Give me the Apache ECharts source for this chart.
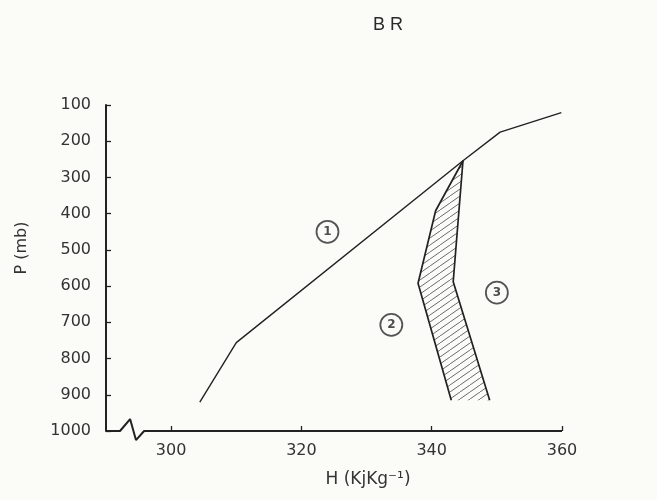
<!DOCTYPE html>
<html>
<head>
<meta charset="utf-8">
<script src="https://cdn.jsdelivr.net/npm/echarts@6/dist/echarts.min.js"></script>
<style>html,body{margin:0;padding:0;background:#fbfbf8;}#chart{width:657px;height:500px;}</style>
</head>
<body>
<div id="chart"></div>
<script>
// ---- data (H in kJ/kg, P in mb) ----
const titleText = 'B R';
const xTicks = [300, 320, 340, 360];
const yTicks = [100, 200, 300, 400, 500, 600, 700, 800, 900, 1000];
// curve 1
const curve1H = [304.4, 310.0, 344.8, 350.5, 359.9];
const curve1P = [920, 756, 254, 175, 121];
// curve 2 (left boundary of hatched band)
const curve2H = [344.8, 340.6, 337.9, 343.0];
const curve2P = [254, 392, 592, 915];
// curve 3 (right boundary of hatched band)
const curve3H = [344.8, 343.3, 348.9];
const curve3P = [254, 588, 915];
// circled curve labels
const labelNames = ['1', '2', '3'];
const labelH = [324.0, 333.8, 350.0];
const labelP = [450, 707, 618];
// broken x-axis line
const axisH = [290, 292.15, 293.7, 294.6, 295.85, 360];
const axisP = [1000, 1000, 967, 1025, 1000, 1000];

const ink = '#222';
const textColor = '#333';

function pairs(xs, ys) { return xs.map((x, i) => [x, ys[i]]); }

// hatch pattern
const TW = 10, TH = 7;
const tile = document.createElement('canvas');
tile.width = TW; tile.height = TH;
const tc = tile.getContext('2d');
tc.strokeStyle = '#5a5a5a';
tc.lineWidth = 0.9;
for (let k = -1; k <= 1; k++) {
  tc.beginPath();
  tc.moveTo(k * TW, TH);
  tc.lineTo(k * TW + TW, 0);
  tc.stroke();
}
const hatch = { image: tile, repeat: 'repeat' };

// polygon of the band: curve 2 down, then curve 3 back up
const bandH = curve2H.concat(curve3H.slice(1).reverse());
const bandP = curve2P.concat(curve3P.slice(1).reverse());

const chart = echarts.init(document.getElementById('chart'), null, { renderer: 'canvas' });
const lineStyle = { color: ink, width: 1.4 };
const bandLineStyle = { color: ink, width: 1.7 };

chart.setOption({
  backgroundColor: '#fbfbf8',
  animation: false,
  title: {
    text: titleText,
    left: 373, top: 16, padding: 0,
    textStyle: { fontFamily: 'Liberation Sans', fontWeight: 'normal', fontSize: 18, color: '#2a2a2a' }
  },
  grid: { left: 106, right: 95, top: 105, bottom: 69 },
  xAxis: {
    type: 'value', min: 290, max: 360,
    axisLine: { show: false, onZero: false },
    axisTick: { show: true, inside: true, length: 5, customValues: xTicks, lineStyle: { color: ink, width: 1.3 } },
    axisLabel: { customValues: xTicks, margin: 12, fontSize: 16, color: textColor, fontFamily: 'DejaVu Sans' },
    splitLine: { show: false },
    name: 'H (KjKg⁻¹)', nameLocation: 'middle', nameGap: 40,
    nameTextStyle: { fontSize: 17, color: textColor, fontFamily: 'DejaVu Sans', padding: [0, 0, 0, 68] }
  },
  yAxis: {
    type: 'value', inverse: true, min: 100, max: 1000, interval: 100,
    axisLine: { show: true, onZero: false, lineStyle: { color: ink, width: 2 } },
    axisTick: { show: true, inside: true, length: 5, lineStyle: { color: ink, width: 1.3 } },
    axisLabel: { margin: 15, fontSize: 16, color: textColor, fontFamily: 'DejaVu Sans',
                 formatter: v => (yTicks.indexOf(v) >= 0 ? String(v) : '') },
    splitLine: { show: false },
    name: 'P (mb)', nameLocation: 'middle', nameGap: 76,
    nameTextStyle: { fontSize: 16, color: textColor, fontFamily: 'DejaVu Sans', padding: [0, 0, 0, 40] }
  },
  series: [
    {
      type: 'custom', name: 'band', silent: true, z: 1,
      data: [[bandH[0], bandP[0]]],
      renderItem: function (params, api) {
        const pts = bandH.map((h, i) => api.coord([h, bandP[i]]));
        return { type: 'polygon', shape: { points: pts }, style: { fill: hatch, stroke: null } };
      }
    },
    { type: 'line', name: 'axis', data: pairs(axisH, axisP), symbol: 'none', clip: false, silent: true, z: 5,
      lineStyle: { color: ink, width: 2 } },
    { type: 'line', name: '1', data: pairs(curve1H, curve1P), symbol: 'none', silent: true, z: 4, lineStyle: lineStyle },
    { type: 'line', name: '2', data: pairs(curve2H, curve2P), symbol: 'none', silent: true, z: 4, lineStyle: bandLineStyle },
    { type: 'line', name: '3', data: pairs(curve3H, curve3P), symbol: 'none', silent: true, z: 4, lineStyle: bandLineStyle },
    {
      type: 'scatter', name: 'labels', silent: true, z: 6,
      data: labelH.map((h, i) => ({ value: [h, labelP[i]], name: labelNames[i] })),
      symbol: 'circle', symbolSize: 22,
      itemStyle: { color: 'rgba(0,0,0,0)', borderColor: '#2a2a2a', borderWidth: 1.8 },
      label: { show: true, position: 'inside', formatter: p => p.name, fontSize: 12, fontWeight: 'bold',
               color: '#222', fontFamily: 'DejaVu Sans' }
    }
  ]
});
</script>
</body>
</html>
